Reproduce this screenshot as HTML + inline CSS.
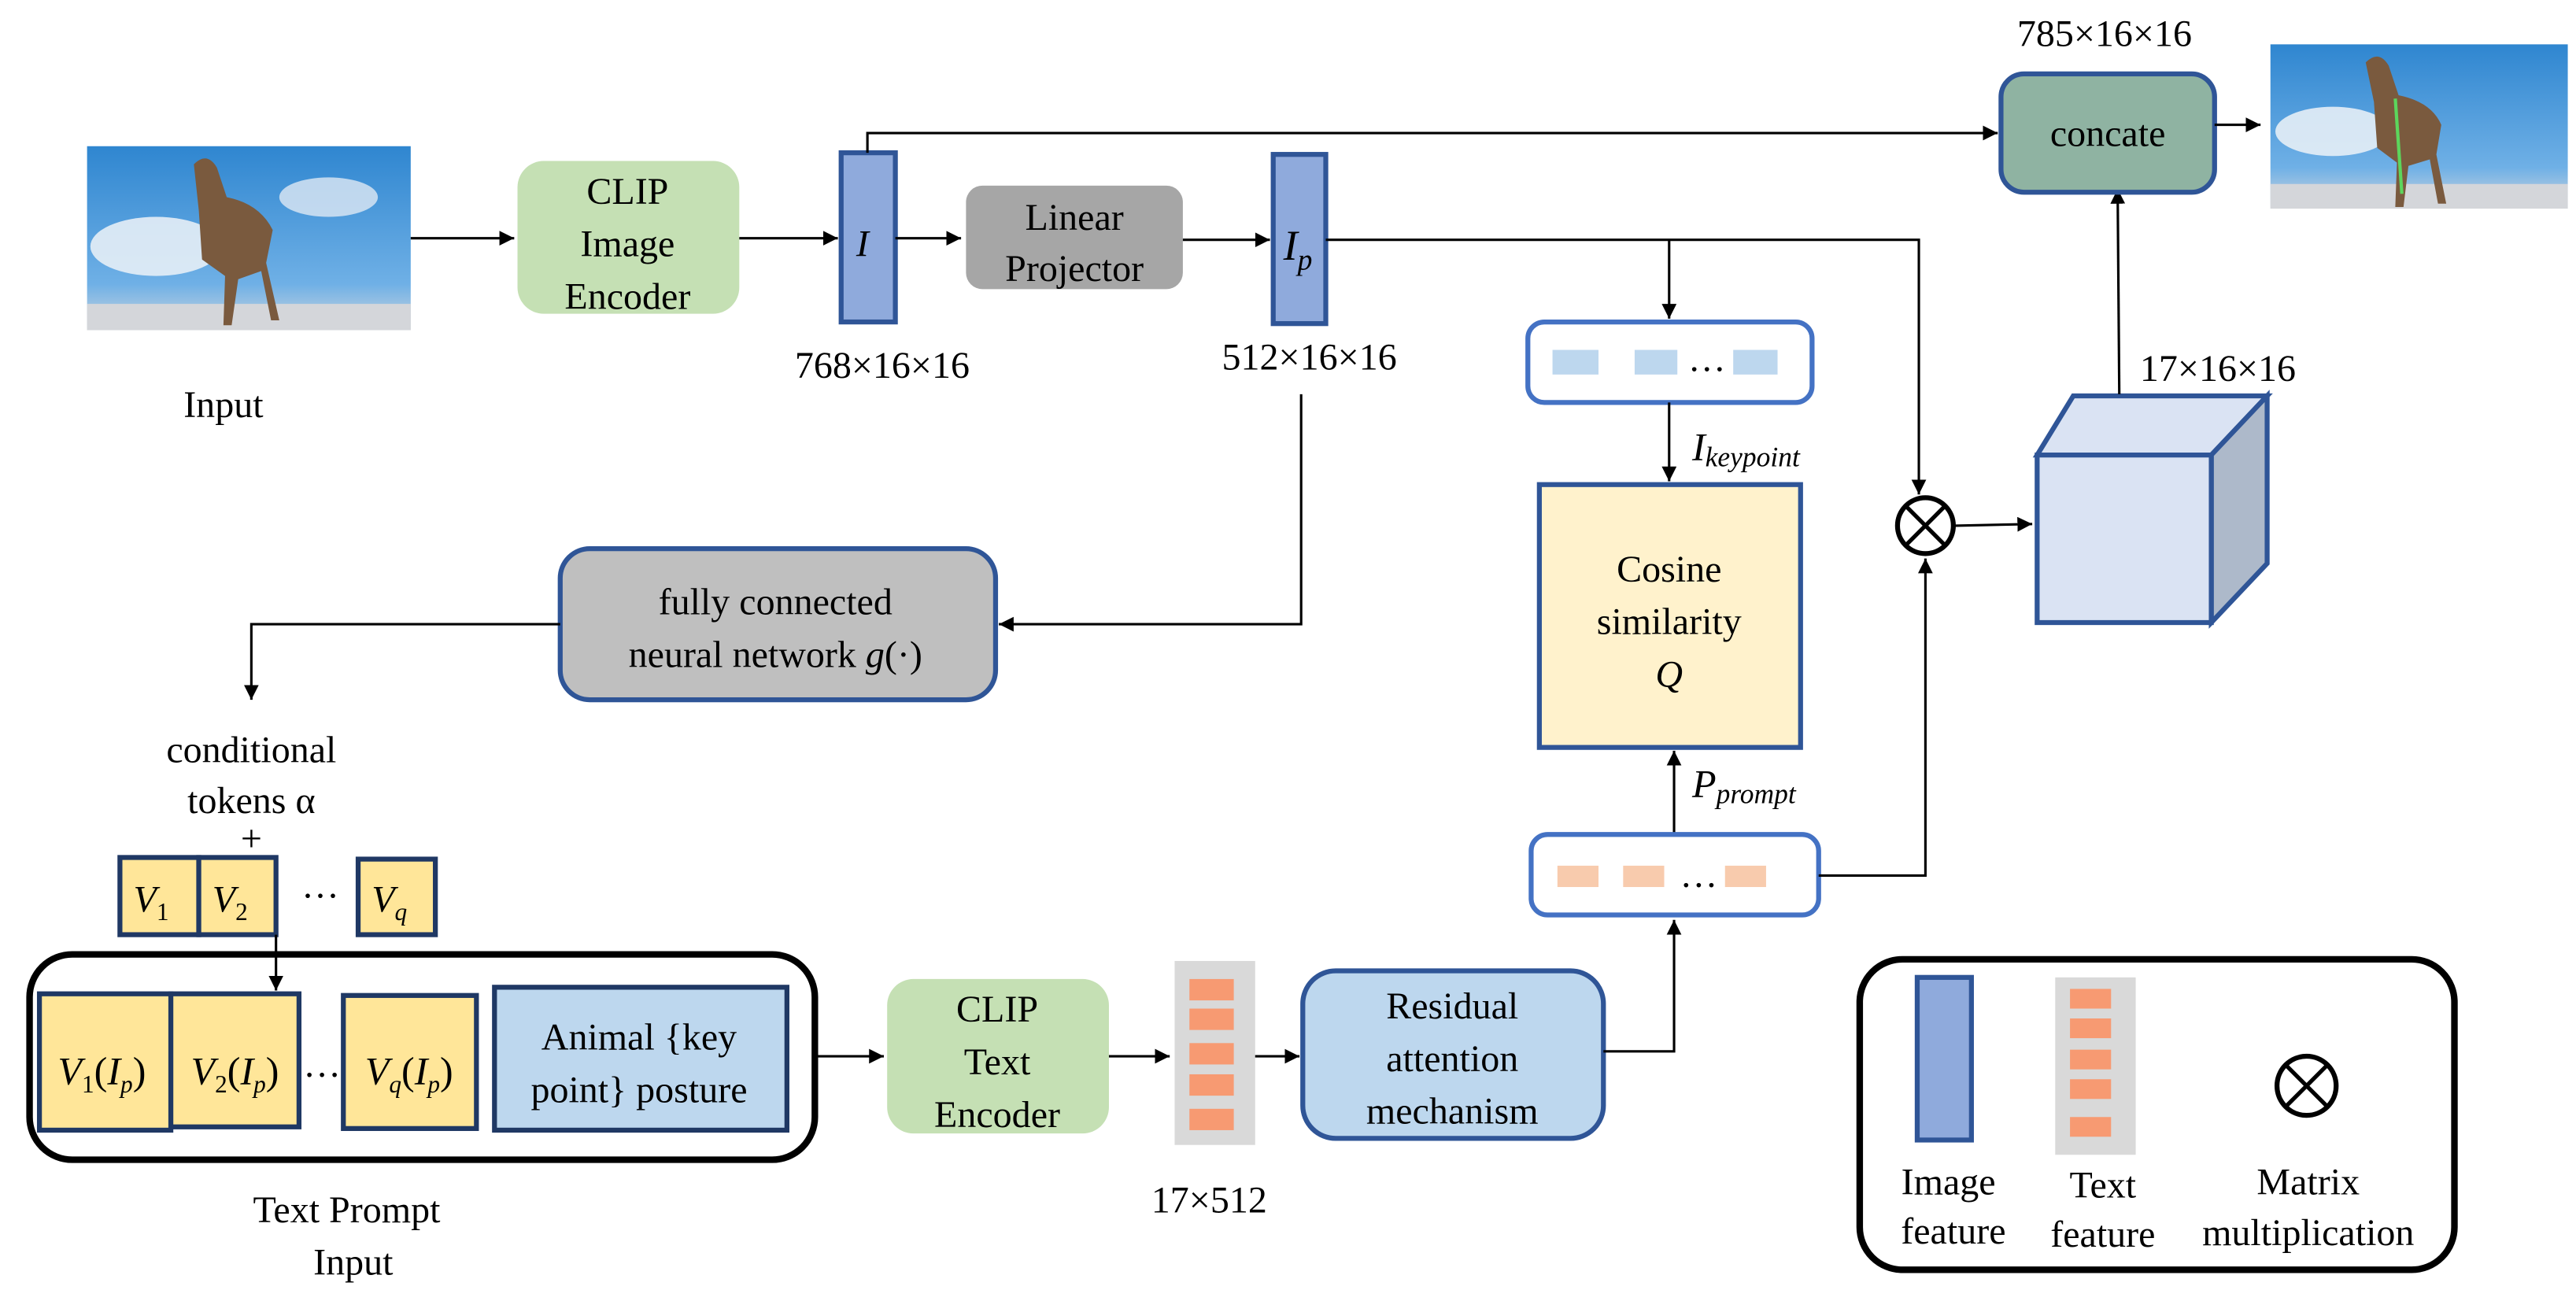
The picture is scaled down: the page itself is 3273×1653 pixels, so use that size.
<!DOCTYPE html>
<html><head><meta charset="utf-8"><style>
html,body{margin:0;padding:0;background:#fff;}
svg{display:block;}
svg text{font-family:"Liberation Serif","DejaVu Serif","Times New Roman",serif;fill:#000;}
</style></head><body>
<svg width="3273" height="1653" viewBox="0 0 1568 792" preserveAspectRatio="none" xmlns="http://www.w3.org/2000/svg">
<defs>
<marker id="a" viewBox="0 0 10 10" refX="10" refY="5" markerWidth="6" markerHeight="6" orient="auto-start-reverse"><path d="M0,0L10,5L0,10z" fill="#000"/></marker>
<linearGradient id="sky" x1="0" y1="0" x2="0" y2="1"><stop offset="0" stop-color="#2f86d0"/><stop offset="0.75" stop-color="#6fb0e6"/><stop offset="1" stop-color="#cfd6de"/></linearGradient>
</defs>
<g font-size="23" text-anchor="middle" font-family="'Liberation Serif','DejaVu Serif','Times New Roman',serif">
<!-- input image -->
<rect x="53" y="89" width="197" height="112" fill="url(#sky)"/>
<ellipse cx="95" cy="150" rx="40" ry="18" fill="#e6eef6" opacity="0.9"/>
<ellipse cx="200" cy="120" rx="30" ry="12" fill="#dfe9f4" opacity="0.8"/>
<rect x="53" y="185" width="197" height="16" fill="#d4d6da"/>
<path d="M118,100 q8,-8 14,2 l6,18 q20,4 28,20 l-4,20 l8,35 h-5 l-6,-30 l-14,5 l-4,28 h-5 l1,-30 l-14,-10 l-2,-30z" fill="#7a5a3e"/>
<text x="136" y="254">Input</text>
<line x1="250" y1="145" x2="313" y2="145" stroke="#000" stroke-width="1.5" marker-end="url(#a)"/>
<rect x="315" y="98" width="135" height="93" rx="16" fill="#c5e0b4"/>
<text x="382" y="124">CLIP</text><text x="382" y="156">Image</text><text x="382" y="188">Encoder</text>
<line x1="450" y1="145" x2="510" y2="145" stroke="#000" stroke-width="1.5" marker-end="url(#a)"/>
<rect x="512" y="93" width="33" height="103" fill="#8faadc" stroke="#2f5597" stroke-width="3"/>
<text x="525" y="156" font-style="italic">I</text>
<text x="537" y="230">768×16×16</text>
<polyline points="528,93 528,81 1216,81" fill="none" stroke="#000" stroke-width="1.5" marker-end="url(#a)"/>
<line x1="545" y1="145" x2="585" y2="145" stroke="#000" stroke-width="1.5" marker-end="url(#a)"/>
<rect x="588" y="113" width="132" height="63" rx="10" fill="#a6a6a6"/>
<text x="654" y="140">Linear</text><text x="654" y="171">Projector</text>
<line x1="720" y1="146" x2="773" y2="146" stroke="#000" stroke-width="1.5" marker-end="url(#a)"/>
<rect x="775" y="94" width="32" height="103" fill="#8faadc" stroke="#2f5597" stroke-width="3"/>
<text x="790" y="158" font-style="italic" font-size="26">I<tspan font-size="18" dy="6">p</tspan></text>
<text x="797" y="225">512×16×16</text>
<polyline points="807,146 1168,146 1168,301" fill="none" stroke="#000" stroke-width="1.5" marker-end="url(#a)"/>
<line x1="1016" y1="146" x2="1016" y2="194" stroke="#000" stroke-width="1.5" marker-end="url(#a)"/>
<rect x="930" y="196" width="173" height="49" rx="10" fill="#fff" stroke="#4472c4" stroke-width="3"/>
<rect x="945" y="213" width="28" height="15" fill="#bdd7ee"/><rect x="995" y="213" width="26" height="15" fill="#bdd7ee"/><rect x="1055" y="213" width="27" height="15" fill="#bdd7ee"/>
<text x="1039" y="226">…</text>
<line x1="1016" y1="245" x2="1016" y2="293" stroke="#000" stroke-width="1.5" marker-end="url(#a)"/>
<text x="1030" y="280" text-anchor="start" font-style="italic" font-size="24">I<tspan font-size="17" dy="4">keypoint</tspan></text>
<rect x="937" y="295" width="159" height="160" fill="#fff2cc" stroke="#2f5597" stroke-width="3"/>
<text x="1016" y="354">Cosine</text><text x="1016" y="386">similarity</text><text x="1016" y="418" font-style="italic">Q</text>
<line x1="1019" y1="508" x2="1019" y2="457" stroke="#000" stroke-width="1.5" marker-end="url(#a)"/>
<text x="1030" y="485" text-anchor="start" font-style="italic" font-size="24">P<tspan font-size="17" dy="4">prompt</tspan></text>
<rect x="932" y="508" width="175" height="49" rx="10" fill="#fff" stroke="#4472c4" stroke-width="3"/>
<rect x="948" y="527" width="25" height="13" fill="#f8cbad"/><rect x="988" y="527" width="25" height="13" fill="#f8cbad"/><rect x="1050" y="527" width="25" height="13" fill="#f8cbad"/>
<text x="1034" y="540">…</text>
<polyline points="1107,533 1172,533 1172,340" fill="none" stroke="#000" stroke-width="1.5" marker-end="url(#a)"/>
<circle cx="1172" cy="320" r="17" fill="#fff" stroke="#000" stroke-width="3"/>
<line x1="1160" y1="308" x2="1184" y2="332" stroke="#000" stroke-width="2.5"/><line x1="1184" y1="308" x2="1160" y2="332" stroke="#000" stroke-width="2.5"/>
<line x1="1190" y1="320" x2="1237" y2="319" stroke="#000" stroke-width="1.5" marker-end="url(#a)"/>
<polygon points="1240,277 1262,241 1380,241 1346,277" fill="#dae3f3" stroke="#2f5597" stroke-width="3"/>
<polygon points="1346,277 1380,241 1380,343 1346,379" fill="#adb9ca" stroke="#2f5597" stroke-width="3"/>
<rect x="1240" y="277" width="106" height="102" fill="#dae3f3" stroke="#2f5597" stroke-width="3"/>
<text x="1350" y="232">17×16×16</text>
<line x1="1290" y1="240" x2="1289" y2="115" stroke="#000" stroke-width="1.5" marker-end="url(#a)"/>
<rect x="1218" y="45" width="130" height="72" rx="14" fill="#8fb3a2" stroke="#2f5597" stroke-width="3"/>
<text x="1283" y="89">concate</text>
<text x="1281" y="28">785×16×16</text>
<line x1="1348" y1="76" x2="1376" y2="76" stroke="#000" stroke-width="1.5" marker-end="url(#a)"/>
<rect x="1382" y="27" width="181" height="100" fill="url(#sky)"/>
<ellipse cx="1420" cy="80" rx="35" ry="15" fill="#e6eef6" opacity="0.9"/>
<rect x="1382" y="112" width="181" height="15" fill="#d4d6da"/>
<path d="M1440,38 q8,-8 14,2 l6,18 q20,4 26,18 l-3,18 l6,30 h-5 l-5,-27 l-13,4 l-3,25 h-5 l1,-27 l-12,-9 l-2,-28z" fill="#7a5a3e"/>
<line x1="1458" y1="60" x2="1462" y2="118" stroke="#5cd65c" stroke-width="2"/>
<!-- FC -->
<polyline points="792,240 792,380 608,380" fill="none" stroke="#000" stroke-width="1.5" marker-end="url(#a)"/>
<rect x="341" y="334" width="265" height="92" rx="18" fill="#bfbfbf" stroke="#2f5597" stroke-width="3"/>
<text x="472" y="374">fully connected</text>
<text x="472" y="406">neural network  <tspan font-style="italic">g</tspan>(·)</text>
<polyline points="341,380 153,380 153,426" fill="none" stroke="#000" stroke-width="1.5" marker-end="url(#a)"/>
<text x="153" y="464">conditional</text><text x="153" y="495">tokens α</text><text x="153" y="518">+</text>
<rect x="73" y="522" width="48" height="47" fill="#ffe699" stroke="#1f3864" stroke-width="3"/>
<rect x="121" y="522" width="47" height="47" fill="#ffe699" stroke="#1f3864" stroke-width="3"/>
<rect x="218" y="523" width="47" height="46" fill="#ffe699" stroke="#1f3864" stroke-width="3"/>
<g font-style="italic"><text x="92" y="555">V<tspan font-size="15" font-style="normal" dy="5">1</tspan></text><text x="140" y="555">V<tspan font-size="15" font-style="normal" dy="5">2</tspan></text><text x="237" y="555">V<tspan font-size="15" dy="5">q</tspan></text></g>
<text x="195" y="553">···</text>
<line x1="168" y1="569" x2="168" y2="603" stroke="#000" stroke-width="1.5" marker-end="url(#a)"/>
<rect x="18" y="581" width="478" height="125" rx="26" fill="none" stroke="#000" stroke-width="4"/>
<rect x="24" y="605" width="80" height="83" fill="#ffe699" stroke="#1f3864" stroke-width="3"/>
<rect x="104" y="605" width="78" height="81" fill="#ffe699" stroke="#1f3864" stroke-width="3"/>
<rect x="209" y="606" width="81" height="81" fill="#ffe699" stroke="#1f3864" stroke-width="3"/>
<rect x="301" y="601" width="178" height="87" fill="#bdd7ee" stroke="#1f3864" stroke-width="3"/>
<g font-size="24"><text x="62" y="660"><tspan font-style="italic">V</tspan><tspan font-size="15" dy="5">1</tspan><tspan dy="-5">(</tspan><tspan font-style="italic">I</tspan><tspan font-style="italic" font-size="15" dy="5">p</tspan><tspan dy="-5">)</tspan></text>
<text x="143" y="660"><tspan font-style="italic">V</tspan><tspan font-size="15" dy="5">2</tspan><tspan dy="-5">(</tspan><tspan font-style="italic">I</tspan><tspan font-style="italic" font-size="15" dy="5">p</tspan><tspan dy="-5">)</tspan></text>
<text x="249" y="660"><tspan font-style="italic">V</tspan><tspan font-style="italic" font-size="15" dy="5">q</tspan><tspan dy="-5">(</tspan><tspan font-style="italic">I</tspan><tspan font-style="italic" font-size="15" dy="5">p</tspan><tspan dy="-5">)</tspan></text></g>
<text x="196" y="662">···</text>
<text x="389" y="639">Animal {key</text><text x="389" y="671">point} posture</text>
<line x1="496" y1="643" x2="538" y2="643" stroke="#000" stroke-width="1.5" marker-end="url(#a)"/>
<rect x="540" y="596" width="135" height="94" rx="16" fill="#c5e0b4"/>
<text x="607" y="622">CLIP</text><text x="607" y="654">Text</text><text x="607" y="686">Encoder</text>
<line x1="675" y1="643" x2="712" y2="643" stroke="#000" stroke-width="1.5" marker-end="url(#a)"/>
<rect x="715" y="585" width="49" height="112" fill="#d9d9d9"/>
<g fill="#f79a72"><rect x="724" y="596" width="27" height="13"/><rect x="724" y="614" width="27" height="13"/><rect x="724" y="635" width="27" height="13"/><rect x="724" y="654" width="27" height="13"/><rect x="724" y="675" width="27" height="13"/></g>
<line x1="764" y1="643" x2="791" y2="643" stroke="#000" stroke-width="1.5" marker-end="url(#a)"/>
<rect x="793" y="591" width="183" height="102" rx="20" fill="#bdd7ee" stroke="#2f5597" stroke-width="3"/>
<text x="884" y="620">Residual</text><text x="884" y="652">attention</text><text x="884" y="684">mechanism</text>
<polyline points="976,640 1019,640 1019,560" fill="none" stroke="#000" stroke-width="1.5" marker-end="url(#a)"/>
<text x="736" y="738">17×512</text>
<text x="211" y="744">Text Prompt</text><text x="215" y="776">Input</text>
<!-- legend -->
<rect x="1132" y="584" width="362" height="189" rx="26" fill="none" stroke="#000" stroke-width="4"/>
<rect x="1167" y="595" width="33" height="99" fill="#8faadc" stroke="#2f5597" stroke-width="3"/>
<rect x="1251" y="595" width="49" height="108" fill="#d9d9d9"/>
<g fill="#f79a72"><rect x="1260" y="602" width="25" height="12"/><rect x="1260" y="620" width="25" height="12"/><rect x="1260" y="639" width="25" height="12"/><rect x="1260" y="657" width="25" height="12"/><rect x="1260" y="680" width="25" height="12"/></g>
<circle cx="1404" cy="661" r="18" fill="#fff" stroke="#000" stroke-width="3"/>
<line x1="1391" y1="648" x2="1417" y2="674" stroke="#000" stroke-width="2.5"/><line x1="1417" y1="648" x2="1391" y2="674" stroke="#000" stroke-width="2.5"/>
<text x="1186" y="727">Image</text><text x="1189" y="757">feature</text>
<text x="1280" y="729">Text</text><text x="1280" y="759">feature</text>
<text x="1405" y="727">Matrix</text><text x="1405" y="758">multiplication</text>
</g>
</svg>
</body></html>
